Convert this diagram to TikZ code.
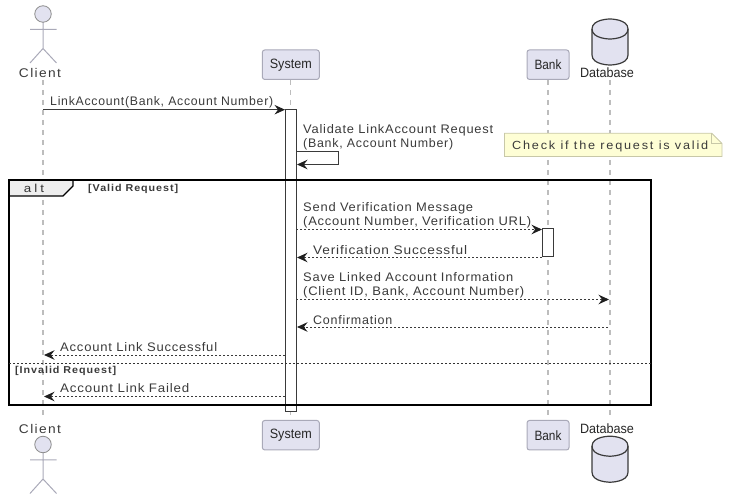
\documentclass[tikz,border=0pt]{standalone}
\usepackage{graphicx}
\usepackage{fontspec}
\setmainfont{Liberation Sans}
\newfontfamily\msgfont[LetterSpace=6]{Liberation Sans}
\newfontfamily\clientfont[LetterSpace=10]{Liberation Sans}
\newfontfamily\framefont[LetterSpace=9]{Liberation Sans}
\newfontfamily\altfont[LetterSpace=22]{Liberation Sans}
\newfontfamily\notefont[LetterSpace=14]{Liberation Sans}
\newcommand\fitw[2]{\resizebox{#1pt}{\height}{#2}}
\usetikzlibrary{arrows.meta}
\definecolor{partfill}{HTML}{E2E2F0}
\definecolor{partline}{HTML}{A9A9B8}
\definecolor{inkdark}{HTML}{3A3A3A}
\definecolor{lifegray}{HTML}{BDBDBD}
\definecolor{notefill}{HTML}{FEFED5}
\definecolor{noteline}{HTML}{C8C8A8}
\definecolor{tabfill}{HTML}{EEEEEE}
\tikzset{
  x=1pt,y=-1pt,
  msgtip/.style={-{Stealth[length=10.5pt,width=9.5pt,inset=3.6pt,color=black!88]}},
  lifeline/.style={draw=lifegray,line width=1.1pt,dash pattern=on 5pt off 5pt},
  participant/.style={draw=partline,fill=partfill,line width=1pt,rounded corners=2.5pt,inner sep=0pt,
    minimum height=29.5pt,font=\fontsize{13.5}{15}\selectfont,text=black!85},
  actorpart/.style={draw=partline,line width=1pt},
  headpart/.style={draw=black!45,fill=partfill,circle,line width=.8pt,minimum size=16.5pt,inner sep=0pt},
  actorlabel/.style={font=\fontsize{12.6}{15}\clientfont,text=inkdark,inner sep=0pt},
  dblabel/.style={font=\fontsize{13.5}{15}\selectfont,text=black!85,inner sep=0pt},
  msg/.style={font=\fontsize{12.4}{14}\msgfont,text=inkdark,anchor=west,inner sep=0pt,align=left},
  solidmsg/.style={draw=inkdark,line width=1pt,msgtip},
  dashmsg/.style={draw=inkdark,line width=1pt,dash pattern=on 2pt off 2pt,msgtip},
  activation/.style={draw=inkdark,fill=white,line width=1pt,inner sep=0pt},
  framelabel/.style={font=\fontsize{10}{12}\framefont\bfseries,text=inkdark,anchor=west,inner sep=0pt},
  cylinderline/.style={draw=inkdark,fill=partfill,line width=1.2pt},
}
\begin{document}
\begin{tikzpicture}
\useasboundingbox (0,0) rectangle (730,502);
% lifeline ends
\coordinate (cT) at (43,80); \coordinate (cB) at (43,416);
\coordinate (dT) at (610,80); \coordinate (dB) at (610,418);
% participants
\node[participant,minimum width=57pt] (sysT) at (290.8,64.7) {\fitw{42}{System}};
\node[participant,minimum width=42pt] (bankT) at (548,64.7) {\fitw{27}{Bank}};
\node[participant,minimum width=57pt] (sysB) at (290.8,435.2) {\fitw{42}{System}};
\node[participant,minimum width=42pt] (bankB) at (548,435.2) {\fitw{27}{Bank}};
% lifelines
\draw[lifeline] (cT) -- (cB);
\draw[lifeline] (sysT) -- (sysB);
\draw[lifeline] (bankT) -- (bankB);
\draw[lifeline] (dT) -- (dB);
% actors
\foreach \yo/\nm in {0/A,430.5/B}{
  \begin{scope}[yshift=-\yo pt]
  \draw[actorpart] (43,22) -- (43,48.5) (30,29.3) -- (56.5,29.3) (30,63) -- (43,48.5) -- (56.5,63);
  \node[headpart] (head\nm) at (43,14) {};
  \end{scope}
}
\node[actorlabel] (clientT) at (40,73) {\fitw{42}{Client}};
\node[actorlabel] (clientB) at (40,429) {\fitw{42}{Client}};
% databases
\foreach \yo in {0,417.2}{
  \begin{scope}[yshift=-\yo pt]
  \draw[cylinderline] (592,29) .. controls (592,19) and (610,19) .. (610,19) .. controls (610,19) and (628,19) .. (628,29)
    -- (628,55) .. controls (628,65) and (610,65) .. (610,65) .. controls (610,65) and (592,65) .. (592,55) -- cycle;
  \draw[cylinderline,fill=none] (592,29) .. controls (592,39) and (610,39) .. (610,39) .. controls (610,39) and (628,39) .. (628,29);
  \end{scope}
}
\node[dblabel] (dbT) at (607,73) {\fitw{54}{Database}};
\node[dblabel] (dbB) at (607,429) {\fitw{54}{Database}};
% activations
\node[activation,minimum width=10.6pt,minimum height=302.4pt] (act) at (291,260.5) {};
\node[activation,minimum width=11pt,minimum height=28pt] (actb) at (548.2,243) {};
% note
\draw[fill=notefill,draw=noteline,line width=.8pt] (504.5,133.2) -- (711.7,133.2) -- (722,143.5) -- (722,156.5) -- (504.5,156.5) -- cycle;
\draw[draw=noteline,line width=.8pt] (711.7,133.2) -- (711.7,143.5) -- (722,143.5);
\node[font=\fontsize{11.8}{14}\notefont,text=inkdark,inner sep=0pt,anchor=west] (note) at (512,146.5) {\fitw{196}{Check if the request is valid}};
% frame
\path[fill=tabfill] (9,180) -- (73,180) -- (73,186) -- (63,196) -- (9,196) -- cycle;
\draw[line width=1.2pt,black] (73,180) -- (73,186) -- (63,196) -- (9,196);
\draw[line width=1.6pt,black] (9,180) rectangle (651.2,404.7);
\draw[black!80,line width=1pt,dash pattern=on 2pt off 2pt] (9,363.7) -- (651.2,363.7);
\node[font=\fontsize{11.5}{13}\altfont,text=black!80,inner sep=0pt] (alt) at (34,188.5) {\fitw{20}{alt}};
\node[framelabel] (valid) at (88,188.5) {\fitw{90}{[Valid Request]}};
\node[framelabel] (invalid) at (15,370.5) {\fitw{101}{[Invalid Request]}};
% messages
\coordinate (m1a) at (43,109.7);
\coordinate (m1b) at (285,109.7);
\draw[solidmsg] (m1a) -- (m1b);
\node[msg] (l1) at (50,102) {\fitw{223}{LinkAccount(Bank, Account Number)}};
\coordinate (m2a) at (296,151.5); \coordinate (m2b) at (338,151.5);
\coordinate (m2c) at (338,164.5); \coordinate (m2d) at (297,164.5);
\draw[solidmsg] (m2a) -- (m2b) -- (m2c) -- (m2d);
\node[msg] (l2) at (303,137) {\fitw{190}{Validate LinkAccount Request}\\\fitw{150}{(Bank, Account Number)}};
\coordinate (m3a) at (296,229.5); \coordinate (m3b) at (542,229.5);
\draw[dashmsg] (m3a) -- (m3b);
\node[msg] (l3) at (303,215) {\fitw{170}{Send Verification Message}\\\fitw{228}{(Account Number, Verification URL)}};
\coordinate (m4a) at (542,257.5); \coordinate (m4b) at (297,257.5);
\draw[dashmsg] (m4a) -- (m4b);
\node[msg] (l4) at (313,250) {\fitw{154}{Verification Successful}};
\coordinate (m5a) at (296,299.5); \coordinate (m5b) at (609,299.5);
\draw[dashmsg] (m5a) -- (m5b);
\node[msg] (l5) at (303,285) {\fitw{210}{Save Linked Account Information}\\\fitw{221}{(Client ID, Bank, Account Number)}};
\coordinate (m6a) at (608,327); \coordinate (m6b) at (297,327);
\draw[dashmsg] (m6a) -- (m6b);
\node[msg] (l6) at (313,320) {\fitw{79}{Confirmation}};
\coordinate (m7a) at (285,355); \coordinate (m7b) at (44,355);
\draw[dashmsg] (m7a) -- (m7b);
\node[msg] (l7) at (60,347) {\fitw{157}{Account Link Successful}};
\coordinate (m8a) at (285,396.5); \coordinate (m8b) at (44,396.5);
\draw[dashmsg] (m8a) -- (m8b);
\node[msg] (l8) at (60,388.5) {\fitw{129}{Account Link Failed}};
\end{tikzpicture}
\end{document}
